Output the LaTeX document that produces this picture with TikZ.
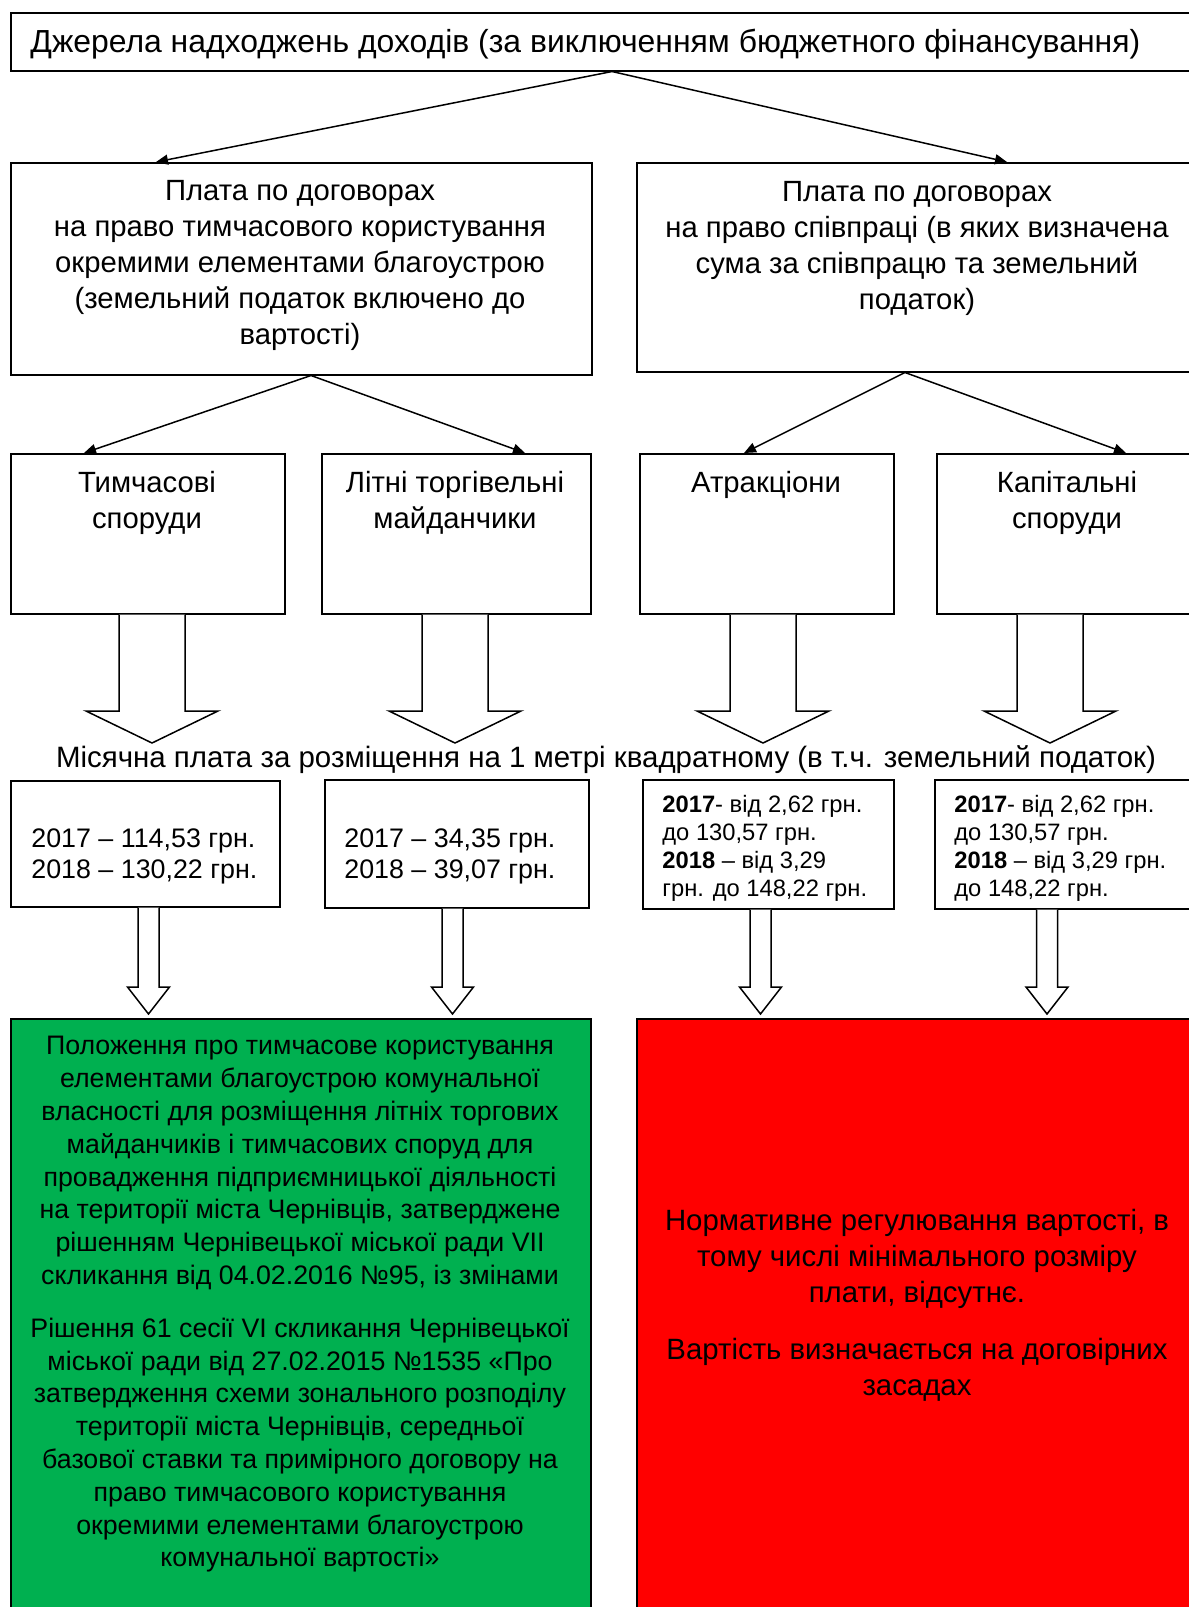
\documentclass[tikz,border=0pt]{standalone}
\usepackage{fontspec}
\setmainfont{Liberation Sans}
\usetikzlibrary{arrows.meta,calc}
\definecolor{boxgreen}{RGB}{0,176,80}
\definecolor{boxred}{RGB}{255,0,0}
\newlength\fitw
\newcommand\fitsize[3]{\settowidth\fitw{\normalfont\fontsize{10}{12}\selectfont #2}\pgfmathsetmacro#1{10*#3/\fitw}}
\newcommand\blockarrow[5]{%
  \draw[blk] ($(#2 |- #1.south)+(-#3,0)$) -- ($(#2)+(-#3,-#5)$) -- ($(#2)+(-#4,-#5)$) -- (#2)
    -- ($(#2)+(#4,-#5)$) -- ($(#2)+(#3,-#5)$) -- ($(#2 |- #1.south)+(#3,0)$);}
\AtBeginDocument{%
\fitsize\szTop{Джерела надходжень доходів (за виключенням бюджетного фінансування)}{555}%
\fitsize\szMain{на право тимчасового користування}{246}%
\fitsize\szLab{Місячна плата за розміщення на 1 метрі квадратному (в т.ч. земельний податок)}{550}%
\fitsize\szAB{2017 – 114,53 грн.}{112}%
\fitsize\szCD{\textbf{2017}- від 2,62 грн.}{100}%
\fitsize\szG{власності для розміщення літніх торгових}{258.5}%
\fitsize\szR{Нормативне регулювання вартості, в}{252}%
}
\begin{document}
\begin{tikzpicture}[x=0.5pt,y=-0.5pt,
  box/.style={draw, line width=0.75pt, inner sep=0, anchor=north west},
  txt/.style={inner sep=0, align=center, yshift=-1.5pt},
  arr/.style={line width=0.75pt, -{Triangle[length=6pt,width=5pt]}},
  blk/.style={draw, fill=white, line width=0.75pt, line join=miter}]
\useasboundingbox (0,0) rectangle (1189,1607);
\clip (0,0) rectangle (1189,1607);
\fill[white] (0,0) rectangle (1189,1607);

% boxes
\node[box, minimum width=1190*0.5pt, minimum height=58*0.5pt] (top) at (10,12) {};
\node[box, minimum width=581*0.5pt, minimum height=212*0.5pt] (L1) at (10,162) {};
\node[box, minimum width=564*0.5pt, minimum height=209*0.5pt] (R1) at (636,162) {};
\node[box, minimum width=274*0.5pt, minimum height=160*0.5pt] (A3) at (10,453) {};
\node[box, minimum width=269*0.5pt, minimum height=160*0.5pt] (B3) at (321,453) {};
\node[box, minimum width=254*0.5pt, minimum height=160*0.5pt] (C3) at (639,453) {};
\node[box, minimum width=264*0.5pt, minimum height=160*0.5pt] (D3) at (936,453) {};
\node[box, minimum width=269*0.5pt, minimum height=126*0.5pt] (A4) at (10,780) {};
\node[box, minimum width=264*0.5pt, minimum height=128*0.5pt] (B4) at (324,779) {};
\node[box, minimum width=251*0.5pt, minimum height=129*0.5pt] (C4) at (642,779) {};
\node[box, minimum width=266*0.5pt, minimum height=129*0.5pt] (D4) at (934,779) {};
\node[box, fill=boxgreen, minimum width=580*0.5pt, minimum height=602*0.5pt] (G) at (10,1018) {};
\node[box, fill=boxred, minimum width=564*0.5pt, minimum height=602*0.5pt] (R) at (636,1018) {};

% texts
\node[txt, anchor=west, font=\fontsize{\szTop}{18}\selectfont] (topT) at (30,41)
  {Джерела надходжень доходів (за виключенням бюджетного фінансування)};
\node[txt, font=\fontsize{\szMain}{18}\selectfont] (L1T) at (300,262.5)
  {Плата по договорах\\на право тимчасового користування\\окремими елементами благоустрою\\(земельний податок включено до\\вартості)};
\node[txt, font=\fontsize{\szMain}{18}\selectfont] (R1T) at (917,245)
  {Плата по договорах\\на право співпраці (в яких визначена\\сума за співпрацю та земельний\\податок)};
\node[txt, font=\fontsize{\szMain}{18}\selectfont] (A3T) at (147,500) {Тимчасові\\споруди};
\node[txt, font=\fontsize{\szMain}{18}\selectfont] (B3T) at (455,500) {Літні торгівельні\\майданчики};
\node[txt, font=\fontsize{\szMain}{18}\selectfont] (C3T) at (766,482) {Атракціони};
\node[txt, font=\fontsize{\szMain}{18}\selectfont] (D3T) at (1067,500) {Капітальні\\споруди};
\node[txt, font=\fontsize{\szLab}{18}\selectfont] (lab) at (606,757)
  {Місячна плата за розміщення на 1 метрі квадратному (в т.ч. земельний податок)};
\node[txt, align=left, anchor=west, font=\fontsize{\szAB}{15.5}\selectfont] (A4T) at (31,853)
  {2017 – 114,53 грн.\\2018 – 130,22 грн.};
\node[txt, align=left, anchor=west, font=\fontsize{\szAB}{15.5}\selectfont] (B4T) at (344,853)
  {2017 – 34,35 грн.\\2018 – 39,07 грн.};
\node[txt, align=left, anchor=west, font=\fontsize{\szCD}{14}\selectfont] (C4T) at (662,845)
  {\textbf{2017}- від 2,62 грн.\\до 130,57 грн.\\\textbf{2018} – від 3,29\\грн. до 148,22 грн.};
\node[txt, align=left, anchor=west, font=\fontsize{\szCD}{14}\selectfont] (D4T) at (954,845)
  {\textbf{2017}- від 2,62 грн.\\до 130,57 грн.\\\textbf{2018} – від 3,29 грн.\\до 148,22 грн.};
\node[txt, font=\fontsize{\szG}{16.4}\selectfont] (GT) at (300,1301.5)
  {Положення про тимчасове користування\\елементами благоустрою комунальної\\власності для розміщення літніх торгових\\майданчиків і тимчасових споруд для\\провадження підприємницької діяльності\\на території міста Чернівців, затверджене\\рішенням Чернівецької міської ради VII\\скликання від 04.02.2016 №95, із змінами\\[10pt]
   Рішення 61 сесії VI скликання Чернівецької\\міської ради від 27.02.2015 №1535 «Про\\затвердження схеми зонального розподілу\\території міста Чернівців, середньої\\базової ставки та примірного договору на\\право тимчасового користування\\окремими елементами благоустрою\\комунальної вартості»};
\node[txt, font=\fontsize{\szR}{18}\selectfont] (RT) at (917,1302)
  {Нормативне регулювання вартості, в\\тому числі мінімального розміру\\плати, відсутнє.\\[10.5pt]Вартість визначається на договірних\\засадах};

% thin connectors
\draw[arr] ($(top.south west)+(602,0)$) -- ($(L1.north west)+(146,0)$);
\draw[arr] ($(top.south west)+(602,0)$) -- ($(R1.north west)+(371,0)$);
\draw[arr] ($(L1.south west)+(301,0)$) -- ($(A3.north west)+(74,0)$);
\draw[arr] ($(L1.south west)+(301,0)$) -- ($(B3.north west)+(204,0)$);
\draw[arr] ($(R1.south west)+(269,0)$) -- ($(C3.north west)+(105,0)$);
\draw[arr] ($(R1.south west)+(269,0)$) -- ($(D3.north west)+(190,0)$);

% block arrows
\coordinate (tA) at (152,743);
\coordinate (tB) at (455,743);
\coordinate (tC) at (763,743);
\coordinate (tD) at (1050,743);
\blockarrow{A3}{tA}{33}{66}{32}
\blockarrow{B3}{tB}{33}{66}{32}
\blockarrow{C3}{tC}{33}{66}{32}
\blockarrow{D3}{tD}{33}{66}{32}
\coordinate (sA) at (148.5,1014);
\coordinate (sB) at (452.5,1014);
\coordinate (sC) at (760.5,1014);
\coordinate (sD) at (1047,1014);
\blockarrow{A4}{sA}{10.5}{21}{27}
\blockarrow{B4}{sB}{10.5}{21}{27}
\blockarrow{C4}{sC}{10.5}{21}{27}
\blockarrow{D4}{sD}{10.5}{21}{27}
\end{tikzpicture}
\end{document}
